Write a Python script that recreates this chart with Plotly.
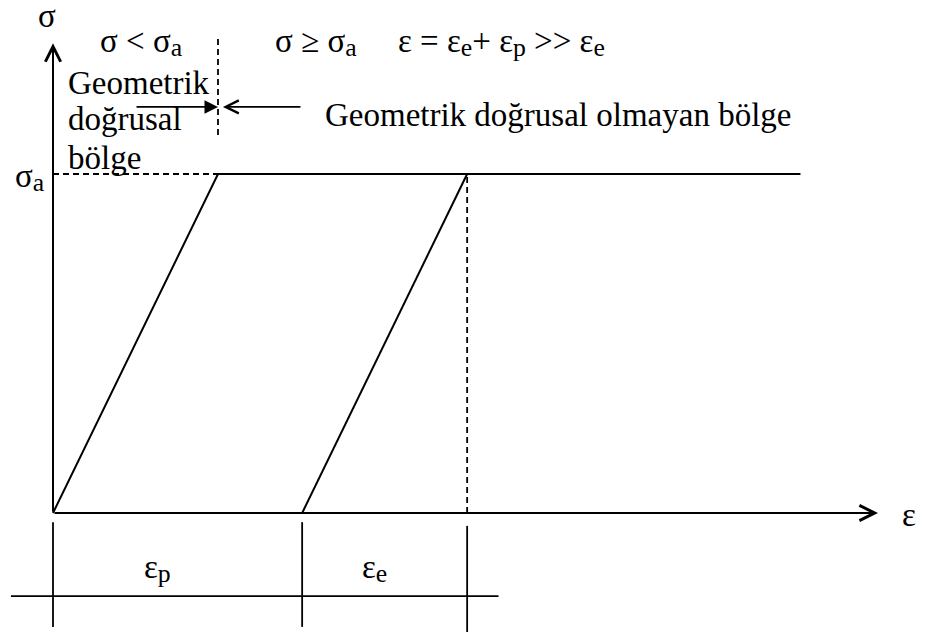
import plotly.graph_objects as go

# ---- diagram data (strain in units of the yield strain, stress in units of sigma_a)
sigma_a = 1.0            # yield stress  σa
eps_e = 1.0              # elastic strain εe
eps_p = 1.51             # plastic strain εp
eps_max = 4.53           # end of the plastic plateau
strain_axis_end = 5.0    # tip of the ε axis
stress_axis_end = 1.386  # tip of the σ axis

load_x = [0, eps_e, eps_max]
load_y = [0, sigma_a, sigma_a]
unload_x = [eps_p, eps_p + eps_e]
unload_y = [0, sigma_a]
dim_ticks = [0, eps_p, eps_p + eps_e]

FONT = "Liberation Serif, Times New Roman, serif"
FS = 33
BLACK = "black"
DASH = "6px,4px"


def sub(t):
    return '<span style="font-size:78%;baseline-shift:-14%">' + t + '</span>'


fig = go.Figure()


def seg(x, y, width=2, dash="solid"):
    fig.add_trace(go.Scatter(x=x, y=y, mode="lines",
                             line=dict(color=BLACK, width=width, dash=dash),
                             hoverinfo="skip", showlegend=False))


# stress-strain path
seg(load_x, load_y)
seg(unload_x, unload_y)

# dashed guides
seg([0, eps_e], [sigma_a, sigma_a], 1.8, DASH)
seg([eps_p + eps_e] * 2, [0, sigma_a], 1.8, DASH)
seg([eps_e] * 2, [1.115, 1.398], 1.8, DASH)

# dimension lines below the axis
seg([-0.255, 2.70], [-0.245, -0.245], 1.8)
tick_tops = [-0.027, -0.027, -0.038]
tick_bots = [-0.336, -0.336, -0.351]
for t, a, b in zip(dim_ticks, tick_tops, tick_bots):
    seg([t, t], [a, b], 1.8)

annotations = []


def arrow(x0, y0, x1, y1, head=5, size=1.5, width=2):
    annotations.append(dict(x=x1, y=y1, ax=x0, ay=y0, xref="x", yref="y",
                            axref="x", ayref="y", text="", showarrow=True,
                            arrowhead=head, arrowsize=size, arrowwidth=width,
                            arrowcolor=BLACK, standoff=0, startstandoff=0))


# axes
arrow(0, 0, strain_axis_end, 0)
arrow(0, 0, 0, stress_axis_end)
# region arrows
arrow(0.497, 1.198, eps_e, 1.198, head=2, size=1.5, width=1.8)
arrow(1.509, 1.198, 1.03, 1.198, head=5, size=1.6, width=1.6)


def label(x, y, text, xanchor="left", yanchor="middle"):
    annotations.append(dict(x=x, y=y, xref="x", yref="y", text=text,
                            showarrow=False, xanchor=xanchor, yanchor=yanchor,
                            font=dict(family=FONT, size=FS, color=BLACK)))


label(-0.036, 1.466, "σ", xanchor="center")
label(0.273, 1.389, "σ < σ" + sub("a"))
label(1.333, 1.389, "σ ≥ σ" + sub("a"))
label(2.079, 1.389, "ε = ε" + sub("e") + "+ ε" + sub("p") + " >> ε" + sub("e"))
label(0.079, 1.268, "Geometrik")
label(0.079, 1.162, "doğrusal")
label(0.079, 1.047, "bölge")
label(1.636, 1.174, "Geometrik doğrusal olmayan bölge")
label(-0.242, 0.991, "σ" + sub("a"))
label(0.633, -0.165, "ε" + sub("p"), xanchor="center")
label(1.948, -0.165, "ε" + sub("e"), xanchor="center")
label(5.133, -0.006, "ε")

# the page body adds an 8 px offset, so the figure is 8 px smaller
fig.update_layout(
    width=918, height=627, autosize=False,
    margin=dict(l=0, r=0, t=0, b=0),
    paper_bgcolor="white", plot_bgcolor="white",
    xaxis=dict(range=[(8 - 53) / 165, (926 - 53) / 165], visible=False, fixedrange=True),
    yaxis=dict(range=[(513 - 635) / 339, (513 - 8) / 339], visible=False, fixedrange=True),
    annotations=annotations,
    showlegend=False,
)

fig.write_html("out.html")
